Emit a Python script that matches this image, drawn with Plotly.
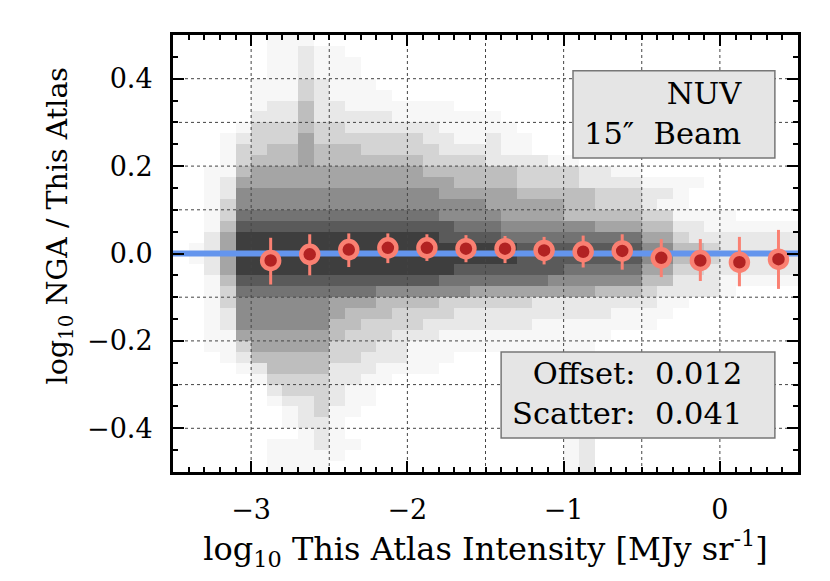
import plotly.graph_objects as go

# binned medians of log10(NGA / This Atlas) vs log10 intensity
bin_x = [-2.875, -2.625, -2.375, -2.125, -1.875, -1.625, -1.375,
         -1.125, -0.875, -0.625, -0.375, -0.125, 0.125, 0.375]
median_y = [-0.016, -0.002, 0.009, 0.013, 0.013, 0.011, 0.011,
            0.007, 0.004, 0.006, -0.010, -0.016, -0.020, -0.013]
err_hi = [0.052, 0.046, 0.037, 0.033, 0.031, 0.031, 0.029,
          0.031, 0.037, 0.038, 0.043, 0.049, 0.058, 0.067]
err_lo = [0.055, 0.048, 0.040, 0.035, 0.030, 0.031, 0.033,
          0.032, 0.036, 0.043, 0.044, 0.047, 0.055, 0.068]

# pixel density (0 = empty .. 9 = densest), 0.1 dex wide columns from -3.5,
# 0.025 tall rows listed from y = +0.5 down to y = -0.5
density_rows = [
    "00000 01110 00000 00000 00000 00000 00000 00000",
    "00000 01121 10000 00000 00000 00000 00000 00000",
    "00000 01121 11000 00000 00000 00000 00000 00000",
    "00000 01121 11000 00000 00000 00000 00000 00000",
    "00000 11132 11100 00000 00000 00000 00000 00000",
    "00000 11132 11110 00000 00000 00000 00000 00000",
    "00000 12242 21111 11100 00000 00000 00000 00000",
    "00000 22242 22221 11111 10000 00000 00000 00000",
    "00001 33343 32222 22111 11000 00000 00000 00000",
    "00012 33353 33333 32211 21100 00000 00000 00000",
    "00013 34454 44333 33222 21100 00000 00000 00000",
    "00013 44454 44444 43333 22221 10000 00000 00000",
    "00114 55555 55555 54444 44333 32211 00000 00000",
    "00125 55555 55555 55544 44333 32222 11110 00000",
    "00126 66666 66666 66555 55444 44333 22100 00000",
    "00136 66666 66666 66666 55555 44333 21100 00000",
    "00137 77777 77777 77666 65555 44444 33111 10000",
    "00148 88888 88888 88877 76666 66555 44221 11111",
    "00259 99999 99999 99888 87777 77777 55322 22222",
    "01259 99999 99999 99999 99888 88888 66443 22222",
    "01259 99999 99999 99999 99888 88888 66443 22222",
    "00259 99999 99999 99988 88888 77777 55332 22222",
    "00148 88888 88888 88777 77776 66666 44222 11111",
    "00137 77777 77766 66665 55555 55444 32222 10000",
    "00136 66666 55544 44333 33322 22222 21100 00000",
    "00126 66666 54443 33322 22222 22211 11000 00000",
    "00126 66666 44333 32222 22211 11111 10000 00000",
    "00115 55555 43332 22111 11111 11100 00000 00000",
    "00113 55555 33322 11111 11111 11000 00000 00000",
    "00012 44444 33222 11100 00000 11000 00000 00000",
    "00001 24444 22211 11000 00000 11000 00000 00000",
    "00000 13333 22110 00000 00000 11000 00000 00000",
    "00000 02333 21100 00000 00000 11000 00000 00000",
    "00000 01223 21100 00000 00000 11000 00000 00000",
    "00000 00123 11000 00000 00000 11000 00000 00000",
    "00000 00122 10000 00000 00000 01000 00000 00000",
    "00000 00012 10000 00000 00000 01000 00000 00000",
    "00000 01112 11000 00000 00000 12000 00000 00000",
    "00000 01111 10000 00000 00000 12000 00000 00000",
    "00000 01111 00000 00000 00000 12000 00000 00000",
]
gray_levels = [255, 247, 232, 212, 190, 165, 140, 115, 90, 62]

x_range = [-3.5, 0.5]
y_range = [-0.5, 0.5]
grid_x = [-3.0, -2.5, -2.0, -1.5, -1.0, -0.5, 0.0]
grid_y = [-0.4, -0.3, -0.2, -0.1, 0.1, 0.2, 0.3, 0.4]

FONT = "DejaVu Serif"

z = [[int(ch) for ch in row.replace(" ", "")] for row in density_rows[::-1]]
colorscale = [[i / 9, f"rgb({g},{g},{g})"] for i, g in enumerate(gray_levels)]

fig = go.Figure()
fig.add_trace(go.Heatmap(
    z=z, x0=-3.45, dx=0.1, y0=-0.4875, dy=0.025,
    zmin=0, zmax=9, colorscale=colorscale, showscale=False,
    hoverinfo="skip"
))

# dotted grid drawn on top of the density image
gx, gy = [], []
for v in grid_x:
    gx += [v, v, None]
    gy += [y_range[0], y_range[1], None]
for v in grid_y:
    gx += [x_range[0], x_range[1], None]
    gy += [v, v, None]
fig.add_trace(go.Scatter(
    x=gx, y=gy, mode="lines", hoverinfo="skip", showlegend=False,
    line=dict(color="#444444", width=1, dash="dot")
))

# one-to-one line
fig.add_trace(go.Scatter(
    x=x_range, y=[0, 0], mode="lines", hoverinfo="skip", showlegend=False,
    line=dict(color="#6495ED", width=6)
))

fig.add_trace(go.Scatter(
    x=bin_x, y=median_y, mode="markers", showlegend=False,
    marker=dict(color="#B22222", size=17, line=dict(color="#FA8072", width=4.5)),
    error_y=dict(type="data", symmetric=False, array=err_hi, arrayminus=err_lo,
                 color="#FA8072", thickness=3, width=0)
))

# label boxes
for x0, x1, y0, y1 in [(0.64, 0.963, 0.7185, 0.918), (0.525, 0.963, 0.078, 0.2746)]:
    fig.add_shape(type="rect", xref="paper", yref="paper",
                  x0=x0, x1=x1, y0=y0, y1=y1, layer="above",
                  fillcolor="#e5e5e5", line=dict(color="#777777", width=1.5))

fig.add_annotation(xref="paper", yref="paper", x=0.913, y=0.82,
                   xanchor="right", yanchor="middle", align="right", showarrow=False,
                   text="NUV<br>15″  Beam", font=dict(family=FONT, size=30.5, color="black"))
fig.add_annotation(xref="paper", yref="paper", x=0.913, y=0.18,
                   xanchor="right", yanchor="middle", align="right", showarrow=False,
                   text="Offset:  0.012<br>Scatter:  0.041",
                   font=dict(family=FONT, size=30.5, color="black"))

# y-axis title, sitting a little above the axis centre as in the original
fig.add_annotation(xref="paper", yref="paper", x=-0.181, y=0.564,
                   xanchor="center", yanchor="middle", textangle=-90, showarrow=False,
                   text="log<sub>10</sub> NGA / This Atlas",
                   font=dict(family=FONT, size=28.5, color="black"))

axis_style = dict(
    showline=True, linewidth=3, linecolor="black", mirror="allticks",
    ticks="inside", ticklen=11, tickwidth=2, tickcolor="black",
    showgrid=False, zeroline=False,
    tickfont=dict(family=FONT, size=27, color="black"),
)

fig.update_xaxes(
    range=x_range, tickvals=[-3, -2, -1, 0], ticklabelstandoff=12,
    minor=dict(ticks="inside", dtick=0.1, ticklen=5, tickwidth=1.5, tickcolor="black"),
    title=dict(text="log<sub>10</sub> This Atlas Intensity [MJy sr<sup>-1</sup>]",
               font=dict(family=FONT, size=32, color="black"), standoff=5),
    **axis_style
)
fig.update_yaxes(
    range=y_range, tickvals=[-0.4, -0.2, 0, 0.2, 0.4], tickformat=".1f",
    ticklabelstandoff=12,
    minor=dict(ticks="inside", dtick=0.05, ticklen=5, tickwidth=1.5, tickcolor="black"),
    **axis_style
)

fig.update_layout(
    width=830, height=581,
    margin=dict(l=165, r=40, t=27, b=117, autoexpand=False),
    paper_bgcolor="white", plot_bgcolor="white",
)

fig.write_html("out.html")
